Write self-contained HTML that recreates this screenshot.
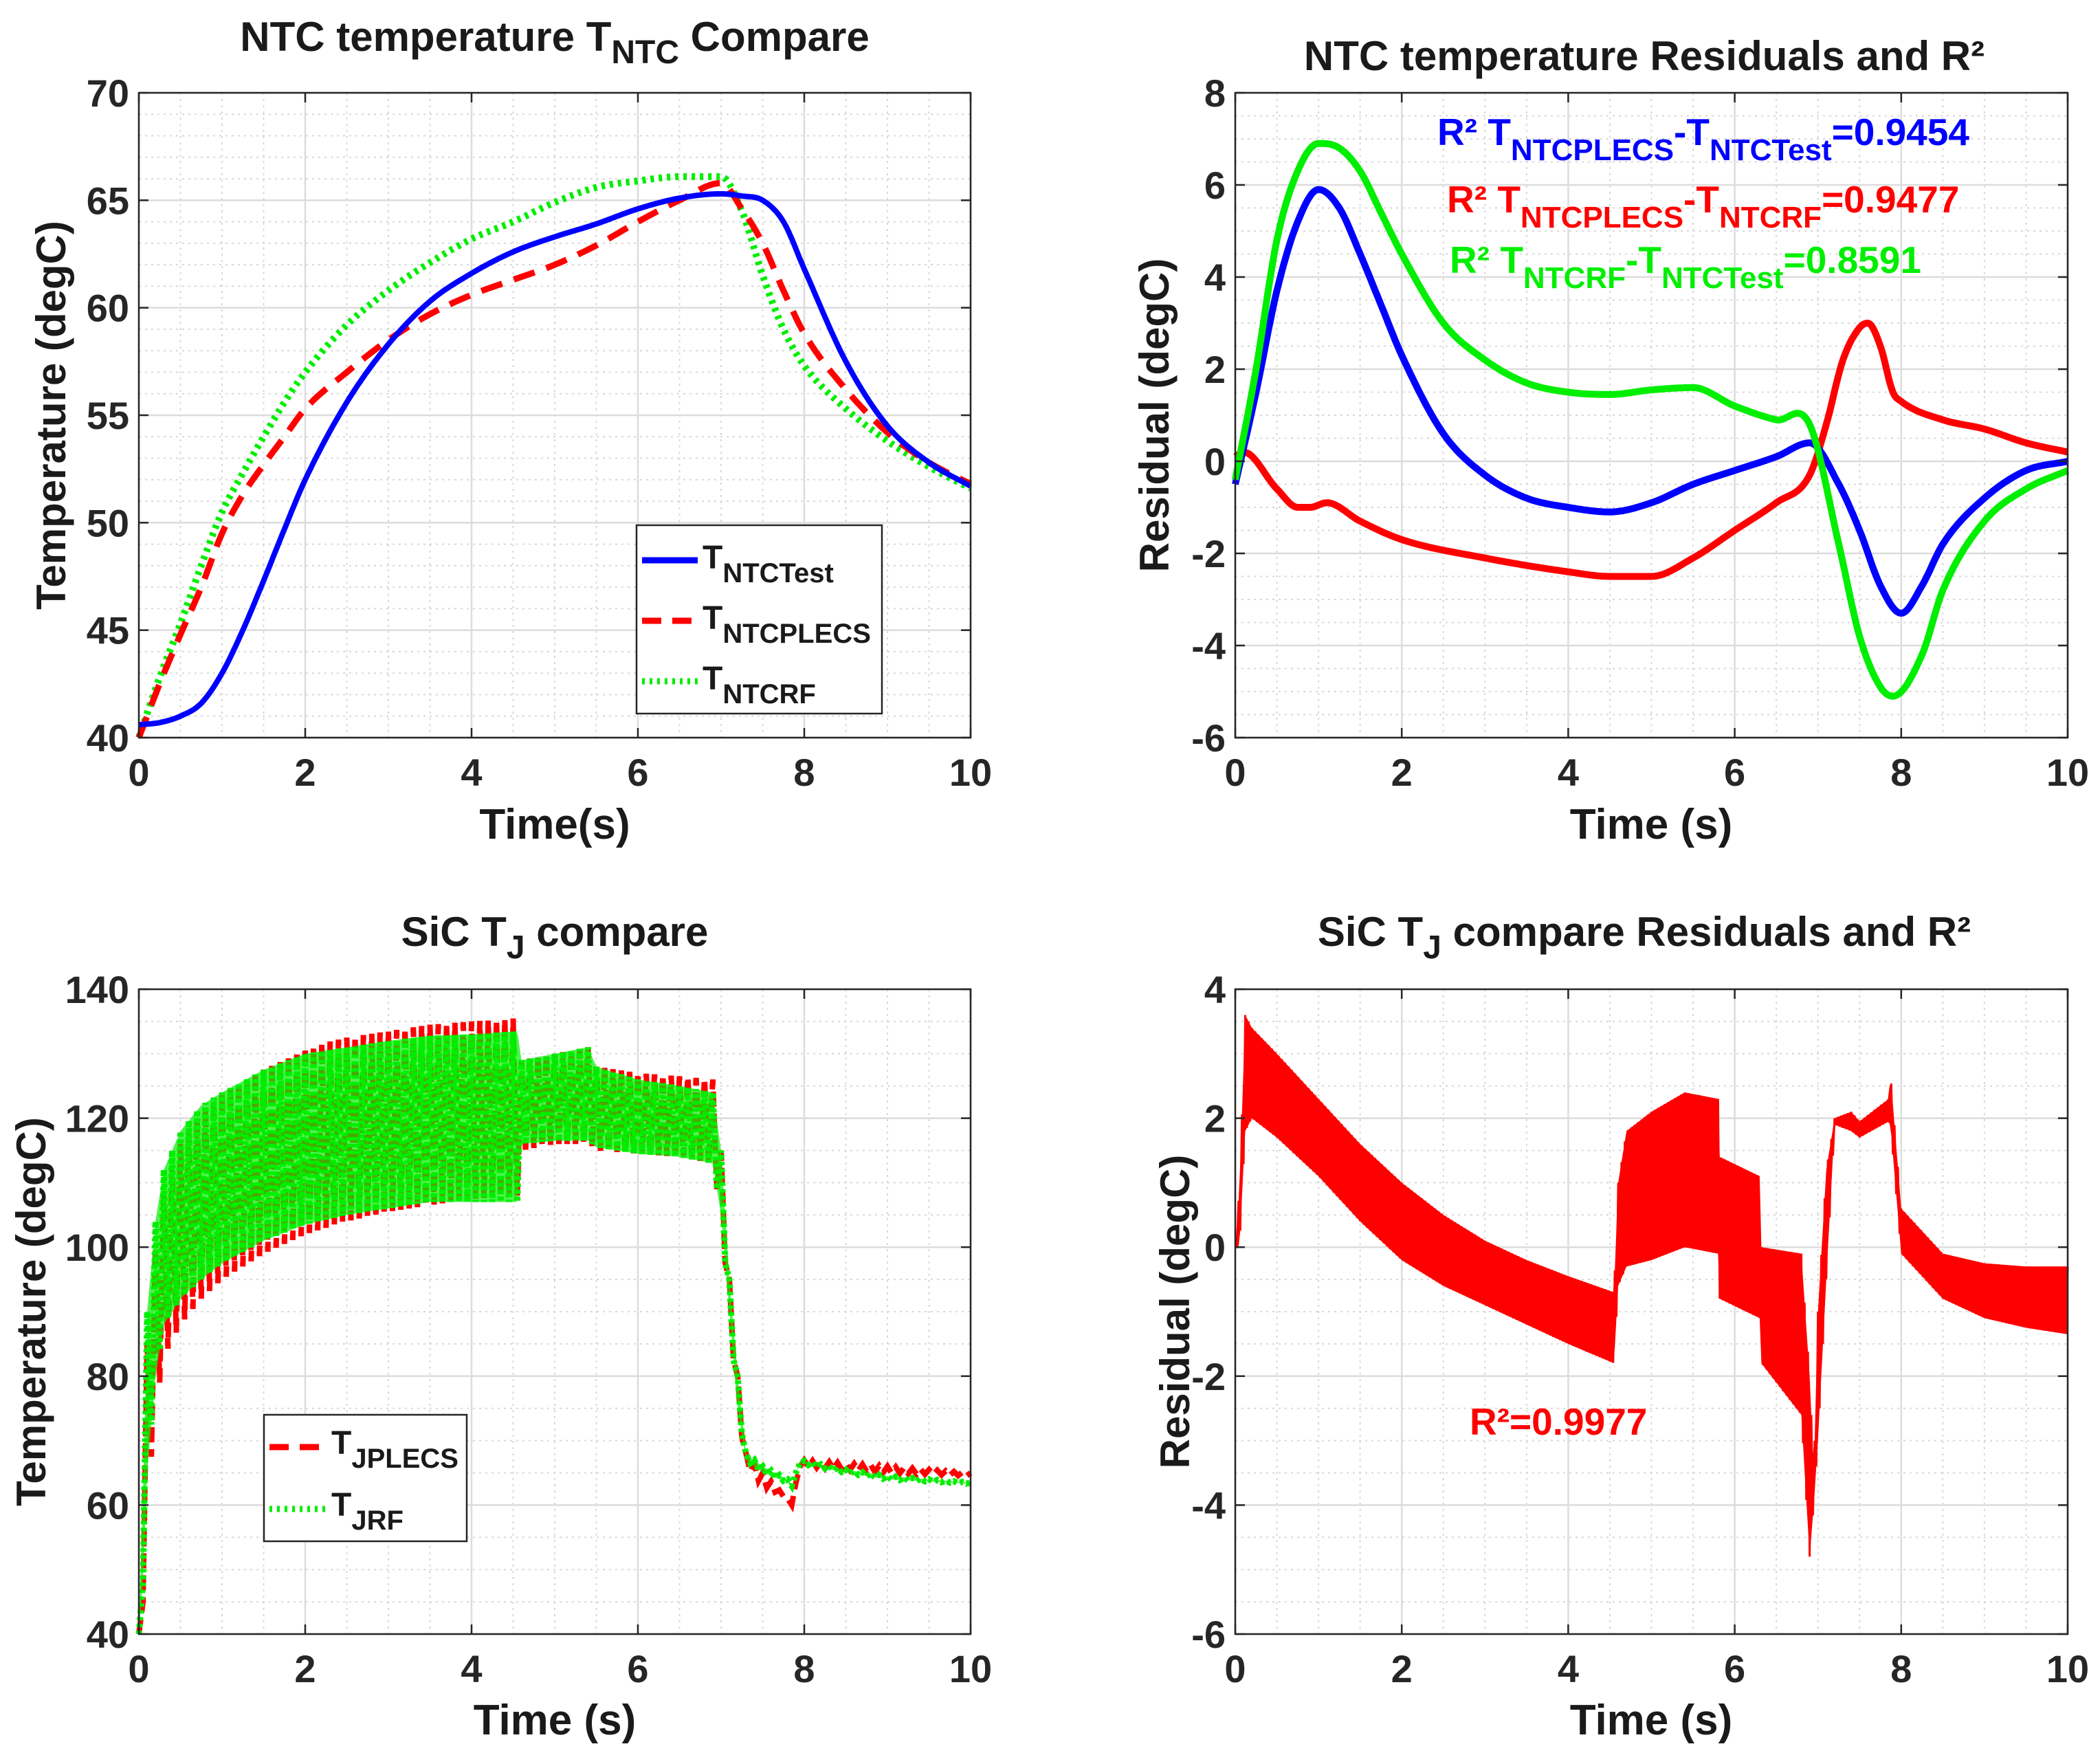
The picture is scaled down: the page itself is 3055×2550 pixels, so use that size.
<!DOCTYPE html>
<html><head><meta charset="utf-8"><style>
html,body{margin:0;padding:0;background:#fff;}
svg{display:block;font-family:"Liberation Sans",Arial,sans-serif;font-weight:bold;}
</style></head><body>
<svg id="fig" width="3055" height="2550" viewBox="0 0 3055 2550" xmlns="http://www.w3.org/2000/svg"></svg>
<script>
// ---------- DATA ----------
const ntcTime = [0,0.25,0.5,0.75,1,1.25,1.5,1.75,2,2.5,3,3.5,4,4.5,5,5.5,6,6.5,7,7.25,7.5,7.75,8,8.5,9,9.5,10];
const ntcTest = [40.6,40.7,41.0,41.6,43.0,45.0,47.3,49.7,52.0,55.6,58.3,60.3,61.6,62.6,63.3,63.9,64.6,65.1,65.3,65.2,65.0,64.0,61.8,57.5,54.5,52.8,51.7];
const ntcPlecs = [40,42.5,44.8,47.0,49.5,51.3,52.7,54.0,55.3,57.0,58.5,59.7,60.6,61.3,62.0,62.9,64.0,65.0,65.8,64.6,63.0,60.8,58.8,56.2,54.2,52.8,51.8];
const ntcRF = [40,42.8,45.3,48.0,50.5,52.3,54.0,55.6,57.0,59.2,60.8,62.1,63.2,64.0,64.9,65.6,65.9,66.1,66.1,64.5,61.5,59.0,57.3,55.3,53.8,52.6,51.6];

const resBlueT = [0,0.25,0.5,0.75,1,1.25,1.5,1.75,2,2.5,3,3.5,4,4.5,5,5.5,6,6.5,6.9,7.25,7.5,7.75,8,8.25,8.5,9,9.5,10];
const resBlue = [-0.5,1.5,3.7,5.2,5.9,5.5,4.5,3.4,2.3,0.6,-0.3,-0.8,-1.0,-1.1,-0.9,-0.5,-0.2,0.1,0.4,-0.5,-1.5,-2.7,-3.3,-2.7,-1.8,-0.8,-0.2,0.0];
const resGreenT = [0,0.25,0.5,0.75,1,1.25,1.5,1.75,2,2.5,3,3.5,4,4.5,5,5.5,6,6.5,6.9,7.25,7.5,7.75,7.9,8.25,8.5,9,9.5,10];
const resGreen = [-0.4,2.0,4.8,6.3,6.9,6.8,6.3,5.4,4.5,3.0,2.2,1.7,1.5,1.45,1.55,1.6,1.2,0.9,0.8,-1.8,-3.8,-4.9,-5.1,-4.2,-2.8,-1.3,-0.6,-0.2];
const resRedT = [0,0.1,0.5,0.75,0.9,1.1,1.5,2,3,4,4.5,5,5.5,6,6.5,6.9,7.1,7.3,7.5,7.6,7.75,7.9,8,8.5,9,9.5,10];
const resRed = [0.1,0.2,-0.6,-1.0,-1.0,-0.9,-1.3,-1.7,-2.1,-2.4,-2.5,-2.5,-2.1,-1.5,-0.9,-0.3,0.8,2.2,2.9,3.0,2.5,1.5,1.3,0.9,0.7,0.4,0.2];

const tjT = [0,0.05,0.1,0.2,0.3,0.5,0.75,1,1.5,2,2.5,3,3.5,4,4.55,4.6,5,5.4,5.5,6,6.5,6.9,7.0,7.1,7.2,7.3,7.5,7.8,7.85,7.95,8.5,9,10];
const tjPlecsHi = [40,60,85,100,108,116,121,124,128,131,132.5,133.5,134.5,135,135.5,129,130,131,128,127,126.5,126,115,95,80,68,65,61,60,67,66.5,66,65];
const tjPlecsLo = [40,45,60,75,83,88,92,95,99,102,104,105.5,106.5,107.5,108,115,116,116,115,114.5,114,113,105,90,75,66,63,61,60,66,65.5,65,64.5];
const tjRFHi = [40,62,90,104,112,118,122,124,127.5,130,131,132,132.8,133,133.5,129,130,131,128,126,125,124,115,95,80,68,66,64,63,67,65.5,64.5,63.5];
const tjRFLo = [40,48,65,80,88,92,95,97.5,101,103.5,105,106,107,107,107,116,116.5,116.5,115.5,114.5,114,113,105,90,75,67,65,63.5,63,66.5,65,64,63.3];

const tjResT = [0,0.05,0.12,0.2,0.5,1,1.5,2,2.5,3,3.5,4,4.55,4.6,4.7,5,5.4,5.8,5.82,6.3,6.32,6.8,6.9,6.95,7.0,7.1,7.2,7.4,7.5,7.85,7.87,8,8.5,9,9.5,10];
const tjResHi = [0,0.9,3.6,3.4,3.0,2.3,1.6,1.0,0.5,0.1,-0.2,-0.45,-0.7,1.0,1.8,2.1,2.4,2.3,1.4,1.1,0.0,-0.1,-2.0,-3.5,-1.0,1.2,2.0,2.1,1.95,2.3,2.7,0.6,-0.1,-0.25,-0.3,-0.3];
const tjResLo = [0,0.0,1.8,2.0,1.7,1.1,0.4,-0.2,-0.6,-0.9,-1.2,-1.5,-1.8,-0.6,-0.3,-0.2,0.0,-0.1,-0.8,-1.1,-1.8,-2.6,-4.8,-4.0,-3.0,-0.5,1.9,1.8,1.7,1.95,1.9,-0.1,-0.8,-1.1,-1.25,-1.35];

const xTicks = [0,2,4,6,8,10];
const yTicks1 = [40,45,50,55,60,65,70];
const yTicks2 = [-6,-4,-2,0,2,4,6,8];
const yTicks3 = [40,60,80,100,120,140];
const yTicks4 = [-6,-4,-2,0,2,4];

// ---------- HELPERS ----------
const NS = "http://www.w3.org/2000/svg";
const svg = document.getElementById('fig');
function mk(tag, attrs, parent){
  const e = document.createElementNS(NS, tag);
  for (const k in attrs) e.setAttribute(k, attrs[k]);
  (parent||svg).appendChild(e);
  return e;
}
function interp(ts, vs, t){
  if (t <= ts[0]) return vs[0];
  for (let i=1;i<ts.length;i++){
    if (t <= ts[i]){ const f=(t-ts[i-1])/(ts[i]-ts[i-1]); return vs[i-1]+f*(vs[i]-vs[i-1]); }
  }
  return vs[vs.length-1];
}
// smooth (Catmull-Rom style, non-uniform) interpolation
function interpS(ts, vs, t){
  const n=ts.length;
  if (t <= ts[0]) return vs[0];
  if (t >= ts[n-1]) return vs[n-1];
  let i=1; while (t > ts[i]) i++;
  const t0=ts[i-1], t1=ts[i], v0=vs[i-1], v1=vs[i];
  const slope=(k)=>{
    if (k<=0) return (vs[1]-vs[0])/(ts[1]-ts[0]);
    if (k>=n-1) return (vs[n-1]-vs[n-2])/(ts[n-1]-ts[n-2]);
    const a=(vs[k]-vs[k-1])/(ts[k]-ts[k-1]), b=(vs[k+1]-vs[k])/(ts[k+1]-ts[k]);
    if (a*b<=0) return 0;
    return (a+b)/2;
  };
  const h=t1-t0, s=(t-t0)/h, m0=slope(i-1)*h, m1=slope(i)*h;
  const s2=s*s, s3=s2*s;
  return (2*s3-3*s2+1)*v0+(s3-2*s2+s)*m0+(-2*s3+3*s2)*v1+(s3-s2)*m1;
}
function makeAxes(L,R,T,B,xmin,xmax,ymin,ymax){
  return {L,R,T,B,
    x: v => L + (v-xmin)/(xmax-xmin)*(R-L),
    y: v => B - (v-ymin)/(ymax-ymin)*(B-T), xmin,xmax,ymin,ymax};
}
function drawFrame(ax, yTicks, yMinor, name){
  const g = mk('g', {});
  
  
  mk('rect',{x:ax.L,y:ax.T,width:ax.R-ax.L,height:ax.B-ax.T,fill:'#fff'},g);
  for (let v=ax.xmin; v<=ax.xmax+1e-9; v+=0.5){
    const X = ax.x(v);
    if (Math.abs(v%2)<1e-9) mk('line',{x1:X,x2:X,y1:ax.T,y2:ax.B,stroke:'#dcdcdc','stroke-width':2.5},g);
    else mk('line',{x1:X,x2:X,y1:ax.T,y2:ax.B,stroke:'#d8d8d8','stroke-width':2,'stroke-dasharray':'3,6'},g);
  }
  for (let v=ax.ymin; v<=ax.ymax+1e-9; v+=yMinor){
    const Y = ax.y(v);
    if (yTicks.some(t=>Math.abs(t-v)<1e-9)) mk('line',{x1:ax.L,x2:ax.R,y1:Y,y2:Y,stroke:'#dcdcdc','stroke-width':2.5},g);
    else mk('line',{x1:ax.L,x2:ax.R,y1:Y,y2:Y,stroke:'#d8d8d8','stroke-width':2,'stroke-dasharray':'3,6'},g);
  }
  return g;
}
function drawTicks(ax, yTicks, name){
  const g = mk('g', {});
  
  
  mk('rect',{x:ax.L,y:ax.T,width:ax.R-ax.L,height:ax.B-ax.T,fill:'none',stroke:'#262626','stroke-width':2.5},g);
  xTicks.forEach(v=>{
    const X=ax.x(v);
    mk('line',{x1:X,x2:X,y1:ax.B,y2:ax.B-14,stroke:'#262626','stroke-width':2.5},g);
    mk('line',{x1:X,x2:X,y1:ax.T,y2:ax.T+14,stroke:'#262626','stroke-width':2.5},g);
    const t=mk('text',{x:X,y:ax.B+70,'text-anchor':'middle','font-size':56,fill:'#262626'},g);
    t.textContent=v;
    
    
  });
  yTicks.forEach(v=>{
    const Y=ax.y(v);
    mk('line',{x1:ax.L,x2:ax.L+14,y1:Y,y2:Y,stroke:'#262626','stroke-width':2.5},g);
    mk('line',{x1:ax.R,x2:ax.R-14,y1:Y,y2:Y,stroke:'#262626','stroke-width':2.5},g);
    const t=mk('text',{x:ax.L-14,y:Y+20,'text-anchor':'end','font-size':56,fill:'#262626'},g);
    t.textContent=v;
    
    
  });
}
function linePath(ax, ts, vs){
  let d='';
  for (let t=ts[0]; t<=ts[ts.length-1]+1e-9; t+=0.02){
    d += (d?'L':'M') + ax.x(t).toFixed(1)+','+ax.y(interpS(ts,vs,t)).toFixed(1);
  }
  return d;
}
function zigzag(ax, ts, hi, lo, period){
  let d='', up=true;
  for (let t=ts[0]; t<=ts[ts.length-1]+1e-9; t+=period/2){
    const v = up ? interp(ts,hi,t) : interp(ts,lo,t);
    d += (d?'L':'M') + ax.x(t).toFixed(1)+','+ax.y(v).toFixed(1);
    up=!up;
  }
  return d;
}
function bandPoly(ax, ts, hi, lo){
  let pts=[];
  for (let t=ts[0]; t<=ts[ts.length-1]+1e-9; t+=0.02) pts.push(ax.x(t).toFixed(1)+','+ax.y(interp(ts,hi,t)).toFixed(1));
  for (let t=ts[ts.length-1]; t>=ts[0]-1e-9; t-=0.02) pts.push(ax.x(t).toFixed(1)+','+ax.y(interp(ts,lo,t)).toFixed(1));
  return pts.join(' ');
}
function label(x,y,txt,size,name,rot){
  const t=mk('text',{x:x,y:y,'text-anchor':'middle','font-size':size,fill:'#1a1a1a'});
  if (rot) t.setAttribute('transform','rotate(-90 '+x+' '+y+')');
  t.innerHTML=txt;
  
  
  return t;
}

// ---------- PLOT 1 ----------
const a1 = makeAxes(202,1412,135,1073,0,10,40,70);
drawFrame(a1, yTicks1, 1, 'ntc-compare');
[[ntcRF,'#00ee00','5,7',10,'series-ntc-rf'],[ntcPlecs,'#ff0000','32,18',9,'series-ntc-plecs'],[ntcTest,'#0000ff','none',8,'series-ntc-test']].forEach(s=>{
  const p=mk('path',{d:linePath(a1,ntcTime,s[0]),fill:'none',stroke:s[1],'stroke-width':s[3],'stroke-dasharray':s[2]});
  
  
});
drawTicks(a1, yTicks1, 'ntc-compare');
label(807,74,'NTC temperature T<tspan dy="18" font-size="48">NTC</tspan><tspan dy="-18"> Compare</tspan>',60,'ntc-compare-title');
label(807,1220,'Time(s)',62,'x-axis-title');
label(95,604,'Temperature (degC)',60,'y-axis-title',true);
(function(){
  const g=mk('g',{});  
  mk('rect',{x:926,y:764,width:357,height:274,fill:'#fff',stroke:'#262626','stroke-width':2.5},g);
  const items=[['#0000ff','none','NTCTest'],['#ff0000','28,16','NTCPLECS'],['#00ee00','4,7','NTCRF']];
  items.forEach((it,i)=>{
    const y=815+i*88;
    mk('line',{x1:934,x2:1015,y1:y,y2:y,stroke:it[0],'stroke-width':9,'stroke-dasharray':it[1]},g);
    const t=mk('text',{x:1022,y:y+12,'font-size':48,fill:'#1a1a1a'},g);
    t.innerHTML='T<tspan dy="20" font-size="40">'+it[2]+'</tspan>';
    
    
  });
})();

// ---------- PLOT 2 ----------
const a2 = makeAxes(1797,3008,135,1073,0,10,-6,8);
drawFrame(a2, yTicks2, 0.5, 'ntc-residual');
[[resRedT,resRed,'#ff0000','series-res-plecs-rf'],[resBlueT,resBlue,'#0000ff','series-res-plecs-test'],[resGreenT,resGreen,'#00ee00','series-res-rf-test']].forEach(s=>{
  const p=mk('path',{d:linePath(a2,s[0],s[1]),fill:'none',stroke:s[2],'stroke-width':10,'stroke-linejoin':'round'});
  
  
});
drawTicks(a2, yTicks2, 'ntc-residual');
label(2392,102,'NTC temperature Residuals and R²',60,'ntc-residual-title');
label(2402,1220,'Time (s)',62,'x-axis-title');
label(1700,604,'Residual (degC)',60,'y-axis-title',true);
[[2091,211,'#0000ff','NTCPLECS','NTCTest','0.9454'],[2105,309,'#ff0000','NTCPLECS','NTCRF','0.9477'],[2109,397,'#00ee00','NTCRF','NTCTest','0.8591']].forEach(a=>{
  const t=mk('text',{x:a[0],y:a[1],'font-size':55,fill:a[2]});
  t.innerHTML='R² T<tspan dy="22" font-size="44">'+a[3]+'</tspan><tspan dy="-22">-T</tspan><tspan dy="22" font-size="44">'+a[4]+'</tspan><tspan dy="-22">='+a[5]+'</tspan>';
  
  
});

// ---------- PLOT 3 ----------
const a3 = makeAxes(202,1412,1439,2377,0,10,40,140);
drawFrame(a3, yTicks3, 5, 'tj-compare');
(function(){
  const p1=mk('path',{d:zigzag(a3,tjT,tjPlecsHi,tjPlecsLo,0.1),fill:'none',stroke:'#ff0000','stroke-width':8,'stroke-dasharray':'22,10'});
  
  
  const f=mk('polygon',{points:bandPoly(a3,tjT,tjRFHi,tjRFLo),fill:'#00ee00','fill-opacity':0.7});
  
  
  const p2=mk('path',{d:zigzag(a3,tjT,tjRFHi,tjRFLo,0.1),fill:'none',stroke:'#00ee00','stroke-width':9,'stroke-dasharray':'5,5'});
  
  
})();
drawTicks(a3, yTicks3, 'tj-compare');
label(807,1376,'SiC T<tspan dy="18" font-size="48">J</tspan><tspan dy="-18"> compare</tspan>',60,'tj-compare-title');
label(807,2523,'Time (s)',62,'x-axis-title');
label(66,1908,'Temperature (degC)',60,'y-axis-title',true);
(function(){
  const g=mk('g',{});  
  mk('rect',{x:384,y:2058,width:295,height:184,fill:'#fff',stroke:'#262626','stroke-width':2.5},g);
  const items=[['#ff0000','28,16','JPLECS'],['#00ee00','4,7','JRF']];
  items.forEach((it,i)=>{
    const y=2105+i*90;
    mk('line',{x1:392,x2:478,y1:y,y2:y,stroke:it[0],'stroke-width':9,'stroke-dasharray':it[1]},g);
    const t=mk('text',{x:482,y:y+10,'font-size':48,fill:'#1a1a1a'},g);
    t.innerHTML='T<tspan dy="20" font-size="40">'+it[2]+'</tspan>';
    
    
  });
})();

// ---------- PLOT 4 ----------
const a4 = makeAxes(1797,3008,1439,2377,0,10,-6,4);
drawFrame(a4, yTicks4, 0.5, 'tj-residual');
(function(){
  const f=mk('polygon',{points:bandPoly(a4,tjResT,tjResHi,tjResLo),fill:'#ff0000'});
  
  
  const p=mk('path',{d:zigzag(a4,tjResT,tjResHi,tjResLo,0.04),fill:'none',stroke:'#ff0000','stroke-width':3});
  
  
})();
drawTicks(a4, yTicks4, 'tj-residual');
label(2392,1376,'SiC T<tspan dy="18" font-size="48">J</tspan><tspan dy="-18"> compare Residuals and R²</tspan>',60,'tj-residual-title');
label(2402,2523,'Time (s)',62,'x-axis-title');
label(1730,1908,'Residual (degC)',60,'y-axis-title',true);
(function(){
  const t=mk('text',{x:2138,y:2087,'font-size':55,fill:'#ff0000'});
  t.textContent='R²=0.9977';
  
  
})();
</script>
</body></html>
